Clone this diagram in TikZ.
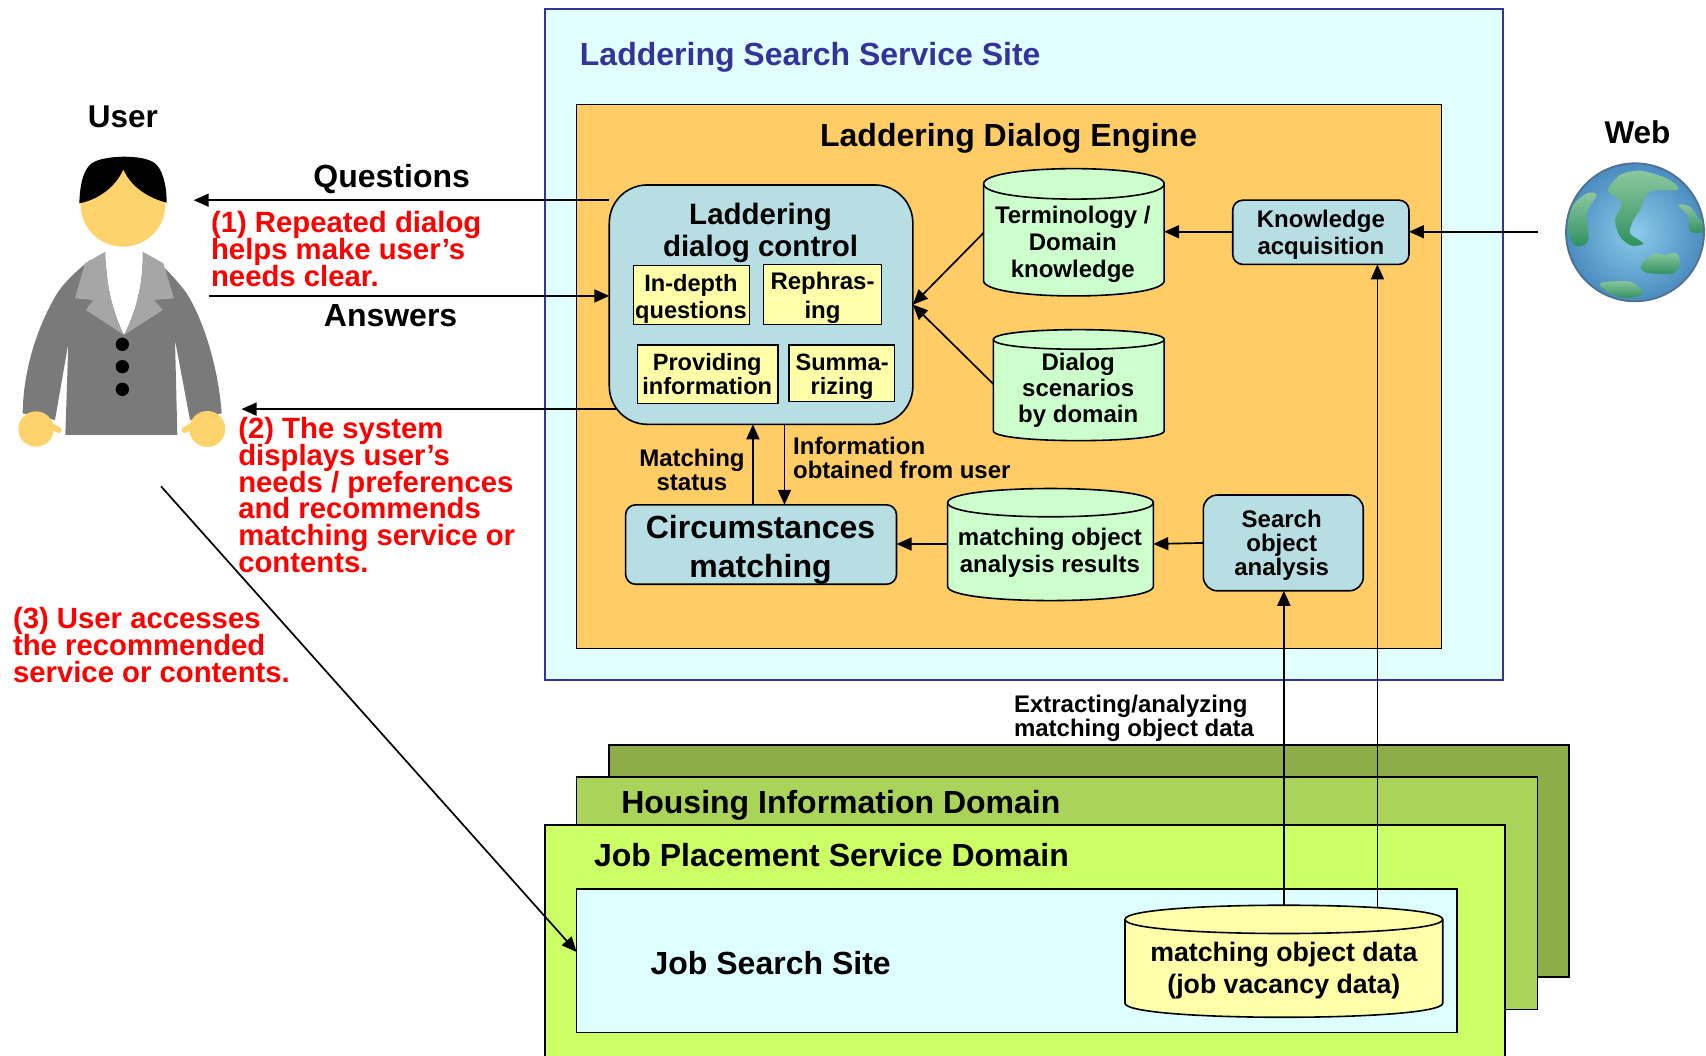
\documentclass[tikz,border=0pt]{standalone}
\usepackage{fontspec}
\setmainfont{Liberation Sans}
\usetikzlibrary{fit,arrows.meta,calc}
\definecolor{siteblue}{HTML}{333399}
\definecolor{sitefill}{HTML}{E2FFFF}
\definecolor{engfill}{HTML}{FFCC66}
\definecolor{ctlfill}{HTML}{B7DEE2}
\definecolor{yelfill}{HTML}{FFFFAA}
\definecolor{cylfill}{HTML}{CCFFCC}
\definecolor{domA}{HTML}{8CAD48}
\definecolor{domB}{HTML}{A9D459}
\definecolor{domC}{HTML}{CCFF66}
\definecolor{jobfill}{HTML}{DDFFFF}
\definecolor{skin}{HTML}{FFD36B}
\definecolor{suit}{HTML}{7A7A7A}
\definecolor{lapel}{HTML}{A6A6A6}
\definecolor{landA}{HTML}{8CC8A0}
\definecolor{landB}{HTML}{2F9060}
\definecolor{seaA}{HTML}{8CCBEA}
\definecolor{seaB}{HTML}{4B8CC0}
\definecolor{rimc}{HTML}{50708F}
\newcommand{\bx}[4]{\node[#1,fit={(#3) (#4)}] (#2) {};}
\newcommand{\cyl}[7]{%
  % name, x1, yt, x2, yb, ry, fill
  \pgfmathsetmacro{\cya}{#3+#6}\pgfmathsetmacro{\cyb}{#5-#6}%
  \pgfmathsetmacro{\cyc}{(#3+#6)+1.333*#6}\pgfmathsetmacro{\cyd}{(#3+#6)-1.333*#6}%
  \pgfmathsetmacro{\cye}{(#5-#6)+1.333*#6}%
  \draw[outl,fill=#7] (#2,\cya) -- (#2,\cyb) .. controls (#2,\cye) and (#4,\cye) .. (#4,\cyb) -- (#4,\cya) .. controls (#4,\cyd) and (#2,\cyd) .. (#2,\cya) -- cycle;
  \draw[outl] (#2,\cya) .. controls (#2,\cyc) and (#4,\cyc) .. (#4,\cya);
  \node[plain,fit={(#2,#3) (#4,#5)}] (#1) {};}
\tikzset{
  fs/.style 2 args={font={\fontsize{#1pt}{#2pt}\selectfont\bfseries\lineskiplimit-100pt\relax}},
  outl/.style={draw=black,line width=1.6pt},
  plain/.style={inner sep=0pt,outer sep=0pt},
  boxed/.style={plain,outl,align=center},
  ctl/.style={boxed,fill=ctlfill,rounded corners=10pt},
  yel/.style={boxed,fill=yelfill,line width=1.4pt},
  dom/.style={plain,outl},
  lab/.style={plain,align=center,text=black},
  lableft/.style={plain,align=left,text=black},
  red/.style={plain,align=left,text=red},
  arr/.style={-{Triangle[length=15pt,width=13pt]},line width=1.7pt,black},
  land/.style={top color=landA,bottom color=landB},
}
\begin{document}
\begin{tikzpicture}[x=1.088pt,y=-1.088pt]
\useasboundingbox (0,0) rectangle (1568,970);
% ---- site
\bx{plain,fill=sitefill,draw=siteblue,line width=2pt}{site}{501,8}{1381,625}
\node[plain,anchor=west,text=siteblue,fs={32}{36}] (sitet) at (533,53) {Laddering Search Service Site};
\bx{dom,fill=engfill}{eng}{530,96}{1325,596}
\node[lab,fs={32}{36}] (engt) at (927,127) {Laddering Dialog Engine};
% ---- control
\bx{boxed,fill=ctlfill,rounded corners=38pt}{ctl}{560,170}{839,390}
\node[lab,fs={29.5}{32.6}] (ctlt) at (699,214) {Laddering\\dialog control};
\bx{yel}{ind}{582,244}{689,298}
\node[lab,fs={23.6}{26.5}] (indt) at (635,274.5) {In-depth\\questions};
\bx{yel}{reph}{702,243}{810,298}
\node[lab,fs={24}{29}] (repht) at (756,274) {Rephras-\\ing};
\bx{yel}{prov}{586,317}{715,371}
\node[lab,fs={23.6}{24}] (provt) at (650,344) {Providing\\information};
\bx{yel}{summ}{725,317}{822,369}
\node[lab,fs={23.6}{24}] (summt) at (774,346) {Summa-\\rizing};
% ---- others
\bx{ctl}{circ}{575,464}{824,537}
\node[lab,fs={32}{39}] (circt) at (699,505) {Circumstances\\matching};
\bx{ctl}{ka}{1133,184}{1295,243}
\node[lab,fs={24}{27}] (kat) at (1214,216) {Knowledge\\acquisition};
\bx{ctl,rounded corners=14pt}{soa}{1106,455}{1253,543}
\node[lab,fs={24}{24}] (soat) at (1178,501) {Search\\object\\analysis};
\cyl{term}{904}{155}{1070}{272}{14}{cylfill}
\node[lab,fs={24}{26.7}] (termt) at (986,224.5) {Terminology /\\Domain\\knowledge};
\cyl{dial}{913}{303}{1070}{405}{9}{cylfill}
\node[lab,fs={24}{26}] (dialt) at (991,359) {Dialog\\scenarios\\by domain};
\cyl{mob}{871}{449}{1060}{552}{13}{cylfill}
\node[lab,fs={24}{27}] (mobt) at (965,508) {matching object\\analysis results};
% ---- domains
\bx{dom,fill=domA}{da}{560,685}{1442,898}
\bx{dom,fill=domB}{db}{530,714}{1413,928}
\node[lab,anchor=west,fs={32}{36}] (dbt) at (571,740) {Housing Information Domain};
\bx{dom,fill=domC}{dc}{501,758}{1383,974}
\node[lab,anchor=west,fs={32}{36}] (dct) at (546,786) {Job Placement Service Domain};
\bx{dom,fill=jobfill}{job}{530,817}{1339,949}
\node[lab,anchor=west,fs={32}{36}] (jobt) at (598,885) {Job Search Site};
\cyl{dat}{1034}{832}{1326}{935}{13}{yelfill}
\node[lab,fs={26.7}{31.5}] (datt) at (1180,892) {matching object data\\(job vacancy data)};
% ---- labels
\node[lab,fs={31.5}{36}] (usert) at (113,107) {User};
\node[lab,fs={31.5}{36}] (webt) at (1505,122) {Web};
\node[lab,fs={32}{36}] (qt) at (360,165) {Questions};
\node[lab,fs={32}{36}] (at) at (359,290) {Answers};
\node[red,anchor=west,fs={29.3}{26.7}] (r1) at (194,229) {(1) Repeated dialog\\helps make user’s\\needs clear.};
\node[red,anchor=west,fs={29.3}{26.7}] (r2) at (219,455) {(2) The system\\displays user’s\\needs / preferences\\and recommends\\matching service or\\contents.};
\node[red,anchor=west,fs={29.3}{26.7}] (r3) at (12,593) {(3) User accesses\\the recommended\\service or contents.};
\node[lab,fs={24}{24}] (mst) at (636,431.5) {Matching\\status};
\node[lableft,anchor=west,fs={24}{24}] (ift) at (729,421) {Information\\obtained from user};
\node[lableft,anchor=west,fs={24}{24}] (ext) at (932,660) {Extracting/analyzing\\matching object data};
% ---- user figure (drawn in 1/3 px units)
\begin{scope}[shift={(0,73.53)},x=0.33333pt,y=-0.33333pt]
\fill[suit] (270,540) .. controls (220,580) and (180,620) .. (160,660) .. controls (110,750) and (70,870) .. (68,1000) -- (165,1020) -- (205,790) -- (196,1065) -- (532,1065) -- (525,780) -- (570,1020) -- (665,1000) .. controls (655,860) and (610,720) .. (560,640) .. controls (530,600) and (510,580) .. (480,550) -- cycle;
\fill[white] (316,515) -- (428,515) .. controls (430,610) and (410,690) .. (372,765) .. controls (335,690) and (318,610) .. (316,515) -- cycle;
\fill[lapel] (316,515) -- (255,550) -- (225,655) -- (280,660) -- (258,690) -- (372,765) .. controls (335,690) and (318,610) .. (316,515) -- cycle;
\fill[lapel] (428,515) -- (490,550) -- (522,655) -- (462,660) -- (488,690) -- (372,765) .. controls (410,690) and (430,610) .. (428,515) -- cycle;
\fill[black] (367,793) circle[radius=20];
\fill[black] (367,860) circle[radius=20];
\fill[black] (367,928) circle[radius=20];
\fill[skin] (369,375) ellipse[x radius=127,y radius=125];
\fill[black] (238,370) .. controls (240,300) and (255,265) .. (275,250) .. controls (310,225) and (430,222) .. (465,250) .. controls (485,265) and (500,310) .. (500,368) .. controls (450,355) and (395,325) .. (370,268) .. controls (345,325) and (290,360) .. (238,370) -- cycle;
\fill[skin] (108,1047) circle[radius=53];
\draw[skin,line width=6pt,line cap=round] (130,1025) -- (176,1050);
\fill[skin] (622,1047) circle[radius=54];
\draw[skin,line width=6pt,line cap=round] (600,1025) -- (554,1050);
\end{scope}
% ---- globe (drawn in 1/3 px units)
\begin{scope}[shift={(1378.68,91.91)},x=0.33333pt,y=-0.33333pt]
\shade[inner color=seaA,outer color=seaB] (405,397) circle[radius=207];
\begin{scope}
\clip (405,397) circle[radius=205];
\shade[land] plot[smooth cycle] coordinates {(325,265) (360,225) (420,212) (500,235) (535,268) (450,275) (420,330) (400,360) (390,400) (430,430) (395,437) (360,410) (345,360) (365,310) (330,280)};
\shade[land] plot[smooth cycle] coordinates {(215,320) (260,280) (290,285) (260,340) (265,420) (235,440) (212,420) (205,370)};
\shade[land] plot[smooth cycle] coordinates {(535,315) (570,320) (600,360) (620,370) (615,395) (570,395) (565,350)};
\shade[land] plot[smooth cycle] coordinates {(425,490) (465,460) (490,465) (530,460) (540,490) (520,520) (450,520) (425,510)};
\shade[land] plot[smooth cycle] coordinates {(300,550) (390,545) (430,580) (380,595) (330,580)};
\end{scope}
\draw[rimc,line width=1.8pt] (405,397) circle[radius=207];
\end{scope}
\coordinate (userQ) at (178,184);
\coordinate (userA) at (192,272);
\coordinate (userR) at (222,376);
\coordinate (userG) at (148,447);
\coordinate (webL) at (1414,213);
\coordinate (ctlIn) at (839,280);
\coordinate (ctlQ) at (560,184);
\coordinate (ctlR) at (566,376);
\coordinate (circL) at (692,464);
\coordinate (circR) at (721,464);
\coordinate (kaX) at (1266,244);
% ---- connectors
\draw[arr] (ctl.west |- ctlQ) -- (userQ);
\draw[arr] (userA) -- (ctl.west |- userA);
\draw[arr] (ctlR) -- (userR);
\draw[arr] (userG) -- (job.west |- 0,875);
\draw[arr] (webL) -- (ka.east |- webL);
\draw[arr] (ka.west |- webL) -- (term.east |- webL);
\draw[arr] (term.west |- 0,214) -- (ctlIn);
\draw[arr] (dial.west |- 0,353) -- (ctlIn);
\draw[arr] (ctl.south -| circR) -- (circ.north -| circR);
\draw[arr] (circ.north -| circL) -- (ctl.south -| circL);
\draw[arr] (mob.west |- 0,500) -- (circ.east |- 0,500);
\draw[arr] (soa.west |- 0,499) -- (mob.east |- 0,500);
\draw[arr] (dat.north) -- (soa.south -| dat.north);
\draw[arr,shorten <=-3pt] (kaX |- dat.north) -- (ka.south -| kaX);
\end{tikzpicture}
\end{document}
